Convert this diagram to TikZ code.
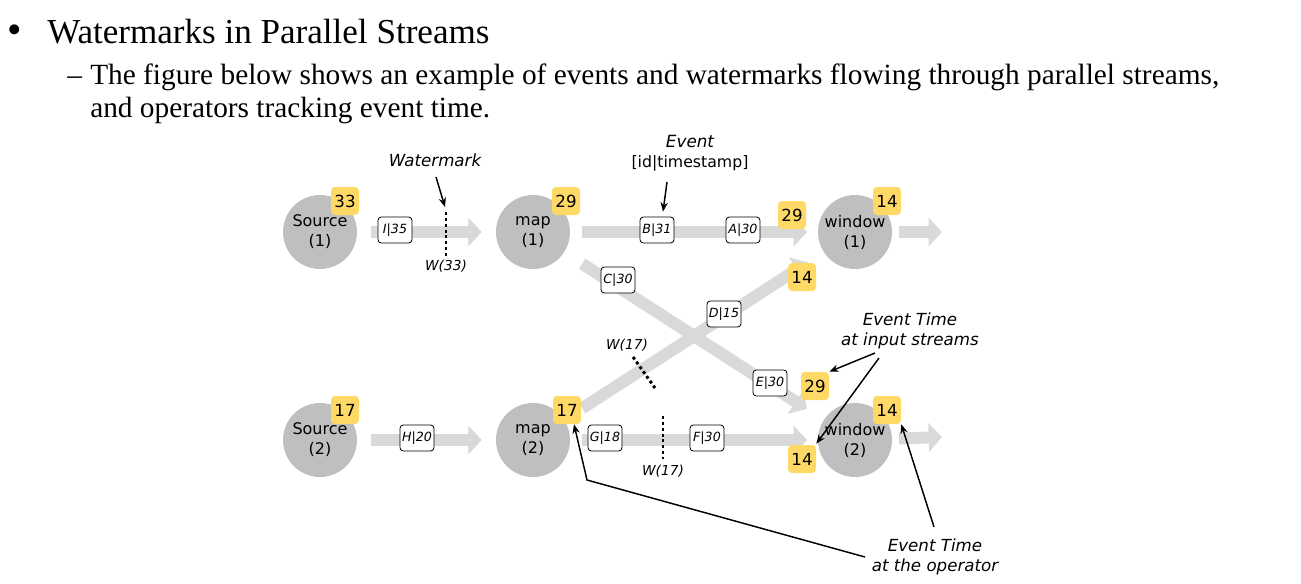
\documentclass[tikz,border=0pt]{standalone}
\usepackage{fontspec}
\setmainfont{Liberation Serif}
\newfontfamily\dv{DejaVu Sans}
\usetikzlibrary{arrows.meta,calc}
\definecolor{opgray}{HTML}{BFBFBF}
\definecolor{flowgray}{HTML}{D9D9D9}
\definecolor{badgey}{HTML}{FFD966}
\begin{document}
\begin{tikzpicture}[x=0.75pt,y=-0.75pt,
  op/.style={circle,fill=opgray,minimum size=55.5pt,inner sep=0pt,align=center,font=\dv\fontsize{12}{15}\selectfont},
  badge/.style={fill=badgey,rounded corners=3pt,minimum size=21pt,inner sep=0pt,font=\dv\fontsize{12.5}{14}\selectfont},
  ev/.style={draw,fill=white,rounded corners=2.5pt,line width=0.6pt,minimum width=25.5pt,minimum height=19.5pt,inner sep=1pt,font=\dv\itshape\fontsize{9.5}{10}\selectfont},
  flow/.style={draw=flowgray,line width=9pt,-{Triangle[length=10pt,width=21pt]}},
  wm/.style={line width=2.2pt,dash pattern=on 2.2pt off 2.2pt},
  note/.style={font=\dv\itshape\fontsize{12.5}{15.5}\selectfont,align=center},
  wmtext/.style={font=\dv\itshape\fontsize{10.3}{12}\selectfont},
  ann/.style={line width=1.1pt,-{Stealth[length=7pt,width=5.5pt]}}
]
\useasboundingbox (0,0) rectangle (1301,583);
% header
\node[font=\fontsize{31}{31}\selectfont,inner sep=0pt] (bul) at (15,34) {\textbullet};
\node[anchor=base west,font=\fontsize{26.3}{30}\selectfont,inner sep=0pt] (title) at (47,43) {Watermarks in Parallel Streams};
\node[anchor=base west,font=\fontsize{22}{26}\selectfont,inner sep=0pt] (dash) at (67,84) {--};
\node[anchor=base west,font=\fontsize{22}{26}\selectfont,inner sep=0pt] (l2) at (90,84) {The figure below shows an example of events and watermarks flowing through parallel streams,};
\node[anchor=base west,font=\fontsize{22}{26}\selectfont,inner sep=0pt] (l3) at (90,117) {and operators tracking event time.};
% operators
\node[op] (src1) at (320,232) {Source\\(1)};
\node[op] (map1) at (533,232) {map\\(1)};
\node[op] (win1) at (855,232) {window\\(1)};
\node[op] (src2) at (320,440) {Source\\(2)};
\node[op] (map2) at (533,440) {map\\(2)};
\node[op] (win2) at (855,440) {window\\(2)};
\coordinate (out1) at (942,232);
\coordinate (out2) at (942,437);
% flows
\draw[flow,shorten <=10.5pt,shorten >=10.5pt] (src1) -- (map1);
\draw[flow,shorten <=9pt,shorten >=8pt] (map1) -- (win1);
\draw[flow,shorten <=5pt] (win1) -- (out1);
\draw[flow,shorten <=10.5pt,shorten >=10.5pt] (src2) -- (map2);
\draw[flow,shorten <=9pt,shorten >=8pt] (map2) -- (win2);
\draw[flow,shorten <=5pt] (win2) -- (out2);
\draw[flow,shorten <=16pt,shorten >=15pt] (map1) -- (win2);
\draw[flow,shorten <=16pt,shorten >=14pt] (map2) -- (win1);
% badges
\node[badge] (bs1) at (345,201) {33};
\node[badge] (bm1) at (566,201) {29};
\node[badge] (bw1) at (887,201) {14};
\node[badge] (bw1a) at (792,215) {29};
\node[badge] (bw1b) at (802,277) {14};
\node[badge] (bs2) at (345,410) {17};
\node[badge] (bm2) at (567,410) {17};
\node[badge] (bw2) at (887,410) {14};
\node[badge] (bw2a) at (815,386) {29};
\node[badge] (bw2b) at (802,459) {14};
% events
\node[ev] (i35) at (395,230) {I|35};
\node[ev] (b31) at (657,230) {B|31};
\node[ev] (a30) at (743,230) {A|30};
\node[ev] (c30) at (618,280) {C|30};
\node[ev] (d15) at (724,314) {D|15};
\node[ev] (e30) at (770,383) {E|30};
\node[ev] (h20) at (417,438) {H|20};
\node[ev] (g18) at (605,438) {G|18};
\node[ev] (f30) at (707,438) {F|30};
% watermarks
\coordinate (w1a) at (446,212); \coordinate (w1b) at (446,256);
\draw[wm] (w1a) -- (w1b);
\node[wmtext] (w33) at (446,266) {W(33)};
\coordinate (w2a) at (633,357); \coordinate (w2b) at (655,388);
\draw[wm] (w2a) -- (w2b);
\node[wmtext] (w17a) at (627,345) {W(17)};
\coordinate (w3a) at (663,416); \coordinate (w3b) at (663,459);
\draw[wm] (w3a) -- (w3b);
\node[wmtext] (w17b) at (663,471) {W(17)};
% annotations
\node[note] (wmk) at (435,160) {Watermark};
\draw[ann] (436,177) -- (445,207);
\node[note,font=\dv\fontsize{11.8}{15}\selectfont] (evt) at (690,153) {{\itshape\fontsize{12.6}{15}\selectfont Event}\\{}[id|timestamp]};
\draw[ann] (667,182) -- ($(b31.north)+(6,-5)$);
\node[note] (eti) at (910,331) {Event Time\\at input streams};
\draw[ann] (875,353) -- (bw2a.north east);
\draw[ann] (879,358) -- ($(bw2b.north east)+(0,-1)$);
\node[note] (eto) at (935,557) {Event Time\\at the operator};
\coordinate (bend) at (587,480);
\draw[ann] (865,557) -- (bend) -- ($(bm2.south)+(7,0)$);
\draw[ann] (934,527) -- (bw2.south east);
\end{tikzpicture}
\end{document}
